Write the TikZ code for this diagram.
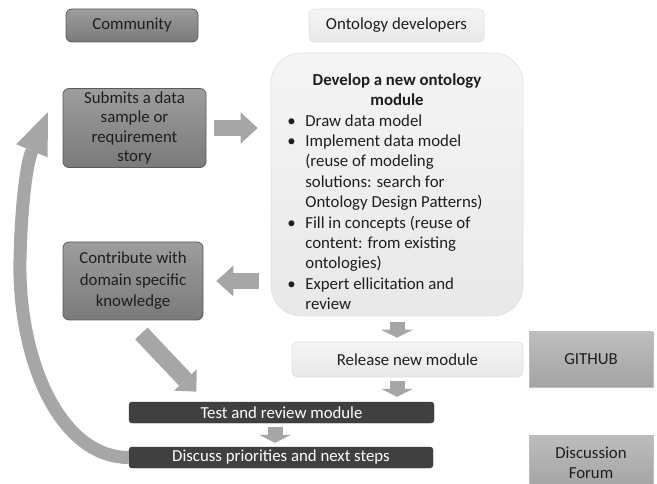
\documentclass[tikz,border=0pt]{standalone}
\usepackage{fontspec}
\setmainfont{Carlito}
\usepackage{tikz}
\usetikzlibrary{arrows.meta}

\definecolor{arrowgray}{HTML}{A6A6A6}
\definecolor{darktop}{HTML}{9D9D9D}
\definecolor{darkbot}{HTML}{7A7A7A}
\definecolor{darkline}{HTML}{5A5A5A}
\definecolor{lighttop}{HTML}{F5F5F5}
\definecolor{lightbot}{HTML}{E8E8E8}
\definecolor{lightline}{HTML}{E0E0E0}
\definecolor{barfill}{HTML}{404040}
\definecolor{tooltop}{HTML}{BDBDBD}
\definecolor{toolbot}{HTML}{A3A3A3}
\definecolor{inktext}{HTML}{1E1E1E}

\begin{document}
\begin{tikzpicture}[x=1pt, y=-1pt,
    every node/.style={font=\fontsize{16.8}{19.6}\selectfont, align=center, inner sep=0pt, text=inktext},
    darkbox/.style={draw=darkline, line width=0.8pt, top color=darktop, bottom color=darkbot, rounded corners=6pt},
    lightbox/.style={draw=lightline, line width=0.6pt, top color=lighttop, bottom color=lightbot, rounded corners=5pt},
    bar/.style={draw=barfill!80!black, fill=barfill, rounded corners=3pt, text=white},
    toolbox/.style={draw=tooltop, line width=0.6pt, top color=tooltop, bottom color=toolbot},
    hblk/.style={draw=arrowgray, line width=16pt, -{Triangle[width=31pt,length=17pt,line width=0pt]}},
    vblk/.style={draw=arrowgray, line width=15pt, -{Triangle[width=32pt,length=8pt,line width=0pt]}},
    dblk/.style={draw=arrowgray, line width=17pt, -{Triangle[width=31pt,length=16pt,line width=0pt]}},
    loopblk/.style={draw=arrowgray, line width=13pt, -{Triangle[width=34pt,length=42pt,line width=0pt]}}]
  \useasboundingbox (0,0) rectangle (657,484);

  % headers
  \node[darkbox, minimum width=132pt, minimum height=33pt] (comm) at (132,25.5) {Community};
  \node[lightbox, minimum width=175pt, minimum height=33pt] (devs) at (396.5,25.5) {Ontology developers};

  % community side
  \node[darkbox, minimum width=143pt, minimum height=79pt] (sub) at (134.5,128)
    {Submits a data\\sample or\\requirement\\story};
  \node[darkbox, font=\fontsize{16.8}{21.5}\selectfont, minimum width=140pt, minimum height=78pt] (contr) at (133,281)
    {Contribute with\\domain specific\\knowledge};

  % developers side
  \node[lightbox, rounded corners=30pt, font=\fontsize{16.8}{20.4}\selectfont,
        minimum width=252pt, minimum height=263pt] (dev) at (397,184.5) {%
    \begin{tabular}{@{}p{18pt}@{}l@{\hspace{24pt}}}
      \multicolumn{2}{c}{}\\[-2.4pt]
      \multicolumn{2}{@{}c@{}}{\textbf{Develop a new ontology}}\\
      \multicolumn{2}{@{}c@{}}{\textbf{module}}\\
      \textbullet & Draw data model\\
      \textbullet & Implement data model\\
                  & (reuse of modeling\\
                  & solutions: search for\\
                  & Ontology Design Patterns)\\
      \textbullet & Fill in concepts (reuse of\\
                  & content: from existing\\
                  & ontologies)\\
      \textbullet & Expert ellicitation and\\
                  & review
    \end{tabular}};
  \node[lightbox, minimum width=231pt, minimum height=35pt] (rel) at (407.5,359.5) {Release new module};

  % joint steps
  \node[bar, minimum width=305pt, minimum height=21pt] (test) at (281.5,412.5) {Test and review module};
  \node[bar, minimum width=304pt, minimum height=21pt] (disc) at (281,457.5) {Discuss priorities and next steps};

  % tools
  \node[toolbox, minimum width=124pt, minimum height=55pt] (gh) at (591,359.5) {GITHUB};
  \node[toolbox, minimum width=124pt, minimum height=56pt] (forum) at (591,463) {Discussion\\Forum};

  % flow
  \draw[hblk, shorten <=8pt, shorten >=13pt] (sub.east) -- (sub.east -| dev.west);
  \draw[hblk, shorten <=12pt, shorten >=13pt] (dev.west |- contr.east) -- (contr.east);
  \draw[vblk, shorten <=6pt, shorten >=4pt] (dev.south) -- (dev.south |- rel.north);
  \draw[vblk, shorten <=4pt, shorten >=5pt] (dev.south |- rel.south) -- (dev.south |- test.north);
  \draw[vblk, shorten <=4pt, shorten >=4pt] ([xshift=-6.5pt]test.south) -- ([xshift=-6.5pt]test.south |- disc.north);
  \draw[dblk, shorten <=18pt, shorten >=14pt] ([xshift=-4pt]contr.south) -- ([xshift=-75.5pt]test.north);

  % back to the community
  \coordinate (loopend) at (48,112);
  \draw[loopblk] (disc.west) .. controls (60,457.5) and (18,360) .. (20,260)
    .. controls (21,210) and (26,165) .. (loopend);
\end{tikzpicture}
\end{document}
